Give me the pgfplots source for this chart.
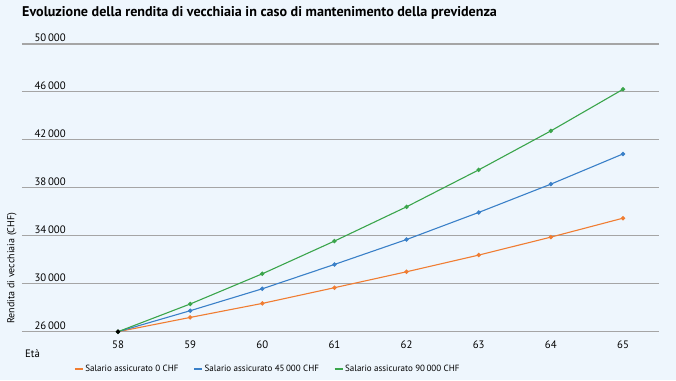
\documentclass[border=0pt]{standalone}
\usepackage{fontspec}
\setmainfont{PT Sans}
\usepackage{pgfplots}
\pgfplotsset{compat=1.18}
\definecolor{bg}{RGB}{238,246,253}
\definecolor{corange}{RGB}{240,125,50}
\definecolor{cblue}{RGB}{58,128,200}
\definecolor{cgreen}{RGB}{58,165,75}
\definecolor{cgrid}{RGB}{165,165,165}
\begin{document}
\begin{tikzpicture}
\path[use as bounding box, fill=bg] (-22pt,-48.3pt) rectangle (654pt,331.7pt);
\begin{axis}[
  scale only axis,
  width=637pt, height=287.7pt,
  xmin=56.669, xmax=65.499,
  ymin=26000, ymax=50000,
  clip=false,
  axis line style={draw=none},
  major tick length=0pt,
  scaled ticks=false,
  xtick={58,...,65},
  ytick={26000,30000,34000,38000,42000,46000,50000},
  ymajorgrids,
  grid style={cgrid, line width=1.1pt},
  /pgf/number format/assume math mode=true,
  /pgf/number format/1000 sep={\,},
  /pgf/number format/min exponent for 1000 sep=4,
  tick label style={font=\fontsize{10.8}{12}\selectfont},
  yticklabel style={anchor=south west, xshift=9pt, yshift=-1.5pt},
  xticklabel style={yshift=-6pt},
  legend columns=3,
  legend style={at={(0.386,-0.1297)}, anchor=center, draw=none, fill=none,
    font=\fontsize{9}{11}\selectfont, /tikz/every even column/.append style={column sep=13pt}},
  legend image code/.code={\draw[#1, mark=none] (0pt,0pt) -- (8pt,0pt);},
  every axis plot/.append style={line width=1.1pt, mark=*, mark size=1.6pt},
]
\addplot[corange, mark options={fill=corange}] coordinates {(58,26000) (59,27190) (60,28360) (61,29670) (62,31000) (63,32390) (64,33890) (65,35470)};
\addlegendentry{Salario assicurato 0 CHF}
\addplot[cblue, mark options={fill=cblue}] coordinates {(58,26000) (59,27750) (60,29580) (61,31610) (62,33690) (63,35950) (64,38310) (65,40830)};
\addlegendentry{Salario assicurato 45\,000 CHF}
\addplot[cgreen, mark options={fill=cgreen}] coordinates {(58,26000) (59,28310) (60,30830) (61,33560) (62,36420) (63,39500) (64,42750) (65,46220)};
\addlegendentry{Salario assicurato 90\,000 CHF}
\addplot[black, mark options={fill=black}, forget plot] coordinates {(58,26000)};
\node[anchor=west, inner sep=0pt, font=\fontsize{10.8}{12}\selectfont] at (rel axis cs:0.0047,-0.0765) {Età};
\node[rotate=90, anchor=center, font=\fontsize{10}{12}\selectfont] at (rel axis cs:-0.0157,0.221) {Rendita di vecchiaia (CHF)};
\end{axis}
\node[anchor=west, inner sep=0pt, font=\bfseries\fontsize{14.1}{16}\selectfont] at (0pt,318.7pt) {Evoluzione della rendita di vecchiaia in caso di mantenimento della previdenza};
\end{tikzpicture}
\end{document}
